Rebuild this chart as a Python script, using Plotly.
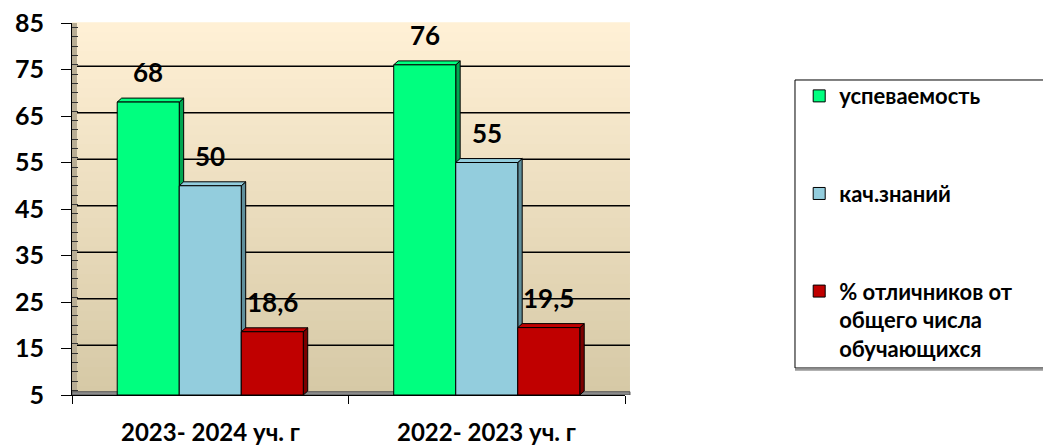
import plotly.graph_objects as go

categories = ["2023- 2024 уч. г", "2022- 2023 уч. г"]
series_names = ["успеваемость", "кач.знаний", "% отличников от<br>общего числа<br>обучающихся"]
uspevaemost = [68, 76]
kach_znaniy = [50, 55]
otlichniki = [18.6, 19.5]
y_tickvals = [5, 15, 25, 35, 45, 55, 65, 75, 85]

series_values = [uspevaemost, kach_znaniy, otlichniki]
front_colors = ["#00FF7F", "#93CDDD", "#C00000"]
side_colors = ["#00A651", "#5F8F9C", "#7A0000"]

FONT = "Lato"
BARGAP = 0.327
W = (1 - BARGAP) / 3
DX = 0.016
DY = 0.85
Y0 = 5

fig = go.Figure()
for name, vals, col in zip(series_names, series_values, front_colors):
    fig.add_trace(go.Bar(
        x=[0, 1], y=[v - Y0 for v in vals], base=Y0, name=name,
        marker=dict(color=col, line=dict(color="black", width=1)),
        legendgroup=name, hoverinfo="skip",
    ))

shapes = []
# gradient back wall
n = 40
top = (255, 240, 213)
bot = (214, 201, 166)
for k in range(n):
    t = k / (n - 1)
    c = tuple(round(bot[i] + (top[i] - bot[i]) * t) for i in range(3))
    shapes.append(dict(type="rect", xref="x domain", yref="y domain",
                       x0=0, x1=1.009, y0=k / n, y1=(k + 1) / n + 0.002,
                       fillcolor="rgb(%d,%d,%d)" % c, line=dict(width=0), layer="below"))
# left side wall strip
shapes.append(dict(type="rect", xref="x domain", yref="y domain", x0=0, x1=0.009, y0=0, y1=1,
                   fillcolor="#B8AD94", line=dict(width=0), layer="below"))
# gridlines on back wall
for tv in y_tickvals[1:]:
    shapes.append(dict(type="line", xref="x domain", yref="y", x0=0.009, x1=1.009, y0=tv + 0.7, y1=tv + 0.7,
                       line=dict(color="black", width=1.3), layer="below"))
# floor strip
shapes.append(dict(type="rect", xref="x domain", yref="y", x0=0, x1=1.009, y0=Y0, y1=Y0 + 0.7,
                   fillcolor="#8C8C8C", line=dict(color="#555555", width=1), layer="below"))

annotations = []
for i in range(len(categories)):
    for j, (vals, scol) in enumerate(zip(series_values, side_colors)):
        v = vals[i]
        xc = i + (j - 1) * W
        xl, xr = xc - W / 2, xc + W / 2
        shapes.append(dict(type="path", xref="x", yref="y",
                           path=f"M{xr},{Y0} L{xr + DX},{Y0 + DY} L{xr + DX},{v + DY} L{xr},{v} Z",
                           fillcolor=scol, line=dict(color="black", width=1), layer="below"))
        shapes.append(dict(type="path", xref="x", yref="y",
                           path=f"M{xl},{v} L{xl + DX},{v + DY} L{xr + DX},{v + DY} L{xr},{v} Z",
                           fillcolor=front_colors[j], line=dict(color="black", width=1), layer="below"))
        annotations.append(dict(x=xc, y=v, xref="x", yref="y", yanchor="bottom",
                                text=f"{v:g}".replace(".", ","), showarrow=False, yshift=12,
                                font=dict(family=FONT, size=26, color="black", weight="bold")))

# category labels placed at category centres below the axis
for i, cat in enumerate(categories):
    annotations.append(dict(x=i, y=0, xref="x", yref="paper", yanchor="top", yshift=-21,
                            text=cat, showarrow=False, borderpad=0,
                            font=dict(family=FONT, size=24, color="black", weight="bold")))

# legend frame
shapes.append(dict(type="rect", xref="paper", yref="paper", x0=1.3074, x1=1.77, y0=0.0726, y1=0.8468,
                   fillcolor="white", line=dict(color="black", width=1), layer="below"))
shapes.append(dict(type="line", xref="paper", yref="paper", x0=1.3074, x1=1.77, y0=0.068, y1=0.068,
                   line=dict(color="#999999", width=2), layer="below"))

fig.update_layout(
    width=1043, height=446,
    margin=dict(l=72, r=418, t=23, b=51, autoexpand=False),
    paper_bgcolor="white", plot_bgcolor="rgba(0,0,0,0)",
    barmode="group", bargap=BARGAP, bargroupgap=0,
    shapes=shapes, annotations=annotations,
    showlegend=True,
    legend=dict(x=1.315, xanchor="left", y=0.86, yanchor="top",
                bgcolor="rgba(0,0,0,0)", borderwidth=0,
                font=dict(family=FONT, size=22, color="black", weight="bold"),
                traceorder="grouped", tracegroupgap=66, valign="top"),
    font=dict(family=FONT, color="black"),
)
fig.update_yaxes(range=[5, 85], tickvals=y_tickvals, showgrid=False, automargin=False,
                 showline=True, linecolor="black", linewidth=1,
                 ticks="outside", ticklen=10, tickcolor="black", ticklabelstandoff=12,
                 tickfont=dict(family=FONT, size=25, color="black", weight="bold"),
                 minor=dict(dtick=2, ticks="inside", ticklen=6, tickcolor="#333333", showgrid=False),
                 zeroline=False, fixedrange=True)
fig.update_xaxes(range=[-0.5, 1.5], tickvals=[-0.5, 0.5, 1.5], ticktext=["", "", ""], automargin=False,
                 showline=True, linecolor="black", linewidth=1,
                 ticks="outside", ticklen=8, tickcolor="black",
                 showgrid=False, zeroline=False, fixedrange=True)

fig.write_html("out.html", config={"displayModeBar": False},
               post_script="document.body.style.margin='0';")
